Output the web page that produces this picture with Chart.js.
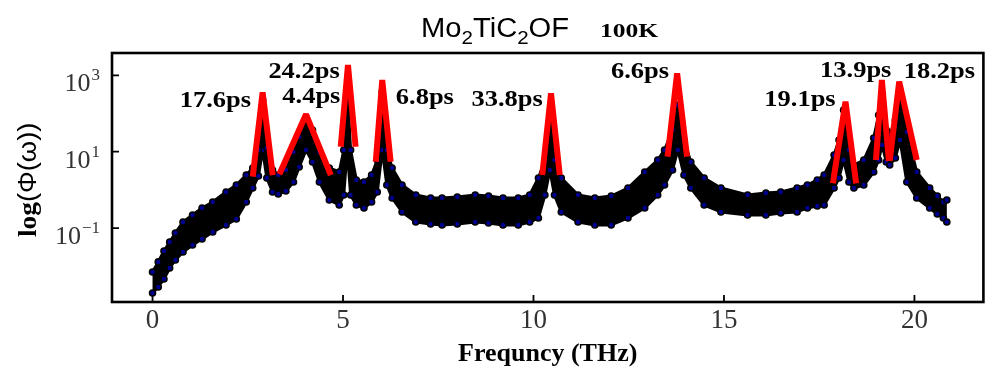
<!DOCTYPE html>
<html>
<head>
<meta charset="utf-8">
<script src="https://cdn.jsdelivr.net/npm/chart.js@4.4.1/dist/chart.umd.min.js"></script>
<style>
  html, body { margin: 0; padding: 0; background: #fff; }
  canvas { display: block; }
</style>
</head>
<body>
<canvas id="c" width="989" height="372"></canvas>
<script>
// Power spectrum of the heat-current autocorrelation, Mo2TiC2OF at 100 K.
// The scattered spectrum is a dense band; it is described by its upper and
// lower edges sampled along the frequency axis.
const freq = [0.00,0.15,0.30,0.45,0.60,0.80,1.05,1.30,1.58,1.93,2.20,2.46,2.63,2.78,2.89,3.00,3.15,3.30,3.50,3.70,
  3.85,4.03,4.20,4.38,4.64,4.90,5.02,5.11,5.20,5.35,5.55,5.75,5.90,6.03,6.15,6.29,6.55,6.91,7.30,7.60,
  8.00,8.47,8.82,9.20,9.60,9.90,10.13,10.30,10.43,10.55,10.73,11.17,11.61,12.04,12.48,12.92,13.26,13.44,13.65,13.79,
  13.95,14.13,14.48,14.92,15.62,16.10,16.49,16.92,17.19,17.45,17.63,17.89,18.02,18.14,18.28,18.41,18.67,18.93,19.06,19.15,
  19.26,19.35,19.50,19.62,19.80,20.06,20.40,20.60,20.76,20.85];

const phiUpper = [0.0071,0.0130,0.0252,0.0433,0.0744,0.144,0.220,0.336,0.482,0.881,1.34,2.45,3.74,11.1,226,12.5,3.32,2.45,3.32,9.82,
  24.3,67.6,37.0,9.82,3.74,2.94,11.1,466,11.1,1.82,1.61,2.45,6.06,366,11.1,3.74,1.34,0.735,0.614,0.614,
  0.651,0.735,0.692,0.614,0.614,0.735,2.05,6.06,67.6,6.06,2.05,0.735,0.614,0.692,1.12,2.94,6.06,11.1,37.0,167,
  20.2,5.38,2.05,1.12,0.735,0.830,0.881,1.12,1.34,1.82,2.45,8.20,20.2,124,11.1,4.49,6.06,22.8,91.4,255,
  37.0,27.4,67.6,255,32.8,2.94,1.12,0.692,0.482,0.544];

const phiLower = [0.0020,0.00287,0.00465,0.00902,0.0146,0.0237,0.0361,0.0519,0.0791,0.1205,0.173,0.482,1.12,2.31,11.1,2.05,0.881,0.781,0.936,1.61,
  3.98,11.1,5.38,1.61,0.544,0.402,0.735,11.1,0.735,0.402,0.336,0.482,0.881,11.1,1.34,0.614,0.264,0.144,0.128,0.1205,
  0.128,0.144,0.136,0.1205,0.1205,0.144,0.184,0.735,3.32,0.735,0.264,0.144,0.1205,0.1205,0.184,0.336,0.735,1.34,3.32,11.1,
  2.45,1.12,0.402,0.264,0.220,0.220,0.248,0.264,0.336,0.379,0.402,1.12,2.05,6.06,1.61,1.12,1.34,2.94,6.06,15.0,
  5.38,4.49,6.84,20.2,1.61,0.614,0.336,0.234,0.184,0.144];

// Lorentzian fits of the individual peaks and the phonon lifetimes they give
const fitNames = ['17.6ps','4.4ps','24.2ps','6.8ps','33.8ps','6.6ps','19.1ps','13.9ps','18.2ps'];
const fitFreqs = [
  [2.63, 2.89, 3.155],
  [3.33, 4.03, 4.68],
  [4.94, 5.13, 5.33],
  [5.86, 6.03, 6.25],
  [10.23, 10.46, 10.69],
  [13.52, 13.77, 14.03],
  [17.86, 18.19, 18.47],
  [18.99, 19.145, 19.33],
  [19.35, 19.60, 20.06]
];
const fitValues = [
  [2.22, 359, 2.45],
  [2.56, 95.3, 2.45],
  [13.5, 1862, 13.5],
  [5.47, 753, 5.47],
  [2.45, 338, 2.45],
  [7.40, 1128, 7.40],
  [1.49, 204, 1.49],
  [6.06, 753, 5.71],
  [5.71, 680, 6.06]
];

const xTickValues = [0, 5, 10, 15, 20];
const yTickValues = [0.1, 10, 1000];
const yTickExponents = ['\u22121', '1', '3'];

// where each lifetime label sits (left end of its baseline, in axis units)
const labelAnchors = [
  [0.714, 152], [3.407, 185], [3.041, 825], [6.387, 177], [8.374, 157],
  [12.034, 850], [16.06, 157], [17.524, 919], [19.72, 850]
];

const SERIF = '"Liberation Serif", "Times New Roman", serif';
const SANS = '"Liberation Sans", Arial, sans-serif';

function pairs(xs, ys) { return xs.map((x, i) => ({ x: x, y: ys[i] })); }

const edgeStyle = {
  borderColor: '#000', borderWidth: 3, borderJoinStyle: 'round', fill: false,
  pointRadius: 3, pointBorderWidth: 1.6, pointBackgroundColor: '#000090', pointBorderColor: '#000',
  tension: 0, order: 2
};
const datasets = [
  Object.assign({ label: 'upper edge', data: pairs(freq, phiUpper) }, edgeStyle),
  Object.assign({ label: 'lower edge', data: pairs(freq, phiLower) }, edgeStyle)
];
fitNames.forEach((name, i) => {
  datasets.push({
    label: name, data: pairs(fitFreqs[i], fitValues[i]),
    borderColor: '#ff0000', borderWidth: 6, pointRadius: 0, fill: false,
    tension: 0, order: 1, borderJoinStyle: 'bevel', borderCapStyle: 'butt'
  });
});

// solid body of the scattered band, between its two edges
const bandFill = {
  id: 'bandFill',
  beforeDatasetsDraw(chart) {
    const ctx = chart.ctx, a = chart.chartArea;
    const xs = chart.scales.x, ys = chart.scales.y;
    ctx.save();
    ctx.beginPath();
    ctx.rect(a.left, a.top, a.right - a.left, a.bottom - a.top);
    ctx.clip();
    ctx.beginPath();
    freq.forEach((f, i) => ctx.lineTo(xs.getPixelForValue(f), ys.getPixelForValue(phiUpper[i])));
    for (let i = freq.length - 1; i >= 0; i--) {
      ctx.lineTo(xs.getPixelForValue(freq[i]), ys.getPixelForValue(phiLower[i]));
    }
    ctx.closePath();
    ctx.fillStyle = '#000';
    ctx.fill();
    ctx.restore();
  }
};

// draw a run of text pieces (font / vertical shift each) with a horizontal stretch
function drawRuns(ctx, x, y, runs, stretch) {
  ctx.save();
  ctx.translate(x, y);
  ctx.scale(stretch, 1);
  let cx = 0;
  runs.forEach(r => {
    ctx.font = r.font;
    ctx.fillText(r.t, cx, r.dy || 0);
    cx += ctx.measureText(r.t).width;
  });
  ctx.restore();
}

const decor = {
  id: 'decor',
  afterDraw(chart) {
    const ctx = chart.ctx, a = chart.chartArea;
    const xs = chart.scales.x, ys = chart.scales.y;
    ctx.save();
    // frame
    ctx.strokeStyle = '#000';
    ctx.lineWidth = 2.6;
    ctx.strokeRect(a.left, a.top, a.right - a.left, a.bottom - a.top);
    // inward tick marks
    ctx.lineWidth = 1.8;
    ctx.beginPath();
    xTickValues.forEach(v => { const p = xs.getPixelForValue(v); ctx.moveTo(p, a.bottom); ctx.lineTo(p, a.bottom - 7); });
    yTickValues.forEach(v => { const p = ys.getPixelForValue(v); ctx.moveTo(a.left, p); ctx.lineTo(a.left + 7, p); });
    ctx.stroke();

    // power-of-ten labels on the vertical axis
    ctx.fillStyle = '#333';
    ctx.textBaseline = 'alphabetic';
    yTickValues.forEach((v, i) => {
      const p = ys.getPixelForValue(v);
      const right = a.left - 12;
      ctx.font = '17px ' + SERIF;
      ctx.textAlign = 'right';
      const ew = ctx.measureText(yTickExponents[i]).width;
      ctx.fillText(yTickExponents[i], right, p + 5);
      ctx.font = '26px ' + SERIF;
      ctx.fillText('10', right - ew - 1, p + 16);
    });

    ctx.fillStyle = '#000';
    ctx.textAlign = 'left';
    // lifetime labels
    fitNames.forEach((name, i) => {
      const px = xs.getPixelForValue(labelAnchors[i][0]);
      const py = ys.getPixelForValue(labelAnchors[i][1]);
      drawRuns(ctx, px, py, [{ t: name, font: 'bold 23px ' + SERIF }], 1.15);
    });

    // heading
    drawRuns(ctx, 421, 37, [
      { t: 'Mo', font: '27px ' + SANS },
      { t: '2', font: '19px ' + SANS, dy: 7 },
      { t: 'TiC', font: '27px ' + SANS },
      { t: '2', font: '19px ' + SANS, dy: 7 },
      { t: 'OF', font: '27px ' + SANS }
    ], 1.08);
    drawRuns(ctx, 600, 37, [{ t: '100K', font: 'bold 18px ' + SERIF }], 1.42);

    // vertical axis title
    ctx.save();
    ctx.translate(36, 237);
    ctx.rotate(-Math.PI / 2);
    drawRuns(ctx, 0, 0, [
      { t: 'log', font: 'bold 26px ' + SERIF },
      { t: '(\u03A6(\u03C9))', font: '26px ' + SANS }
    ], 1.05);
    ctx.restore();
    ctx.restore();
  }
};

new Chart(document.getElementById('c'), {
  type: 'line',
  data: { datasets: datasets },
  options: {
    responsive: false,
    animation: false,
    events: [],
    layout: { padding: { top: 53, right: 2, left: 0, bottom: 0 } },
    plugins: { legend: { display: false }, tooltip: { enabled: false }, title: { display: false } },
    scales: {
      x: {
        type: 'linear', min: -1.064, max: 21.81,
        grid: { display: false, drawTicks: false },
        border: { display: false },
        afterBuildTicks: s => { s.ticks = xTickValues.map(v => ({ value: v })); },
        afterFit: s => { s.height = 70; },
        ticks: { color: '#333', padding: 3, maxRotation: 0, font: { family: SERIF, size: 27 },
                 callback: v => String(v) },
        title: { display: true, text: 'Frequncy (THz)', color: '#000',
                 font: { family: SERIF, size: 26, weight: 'bold' }, padding: { top: 0, bottom: 2 } }
      },
      y: {
        type: 'logarithmic', min: 0.00116, max: 3837,
        grid: { display: false, drawTicks: false },
        border: { display: false },
        afterBuildTicks: s => { s.ticks = yTickValues.map(v => ({ value: v })); },
        afterFit: s => { s.width = 112; },
        ticks: { display: false }
      }
    }
  },
  plugins: [bandFill, decor]
});
</script>
</body>
</html>
